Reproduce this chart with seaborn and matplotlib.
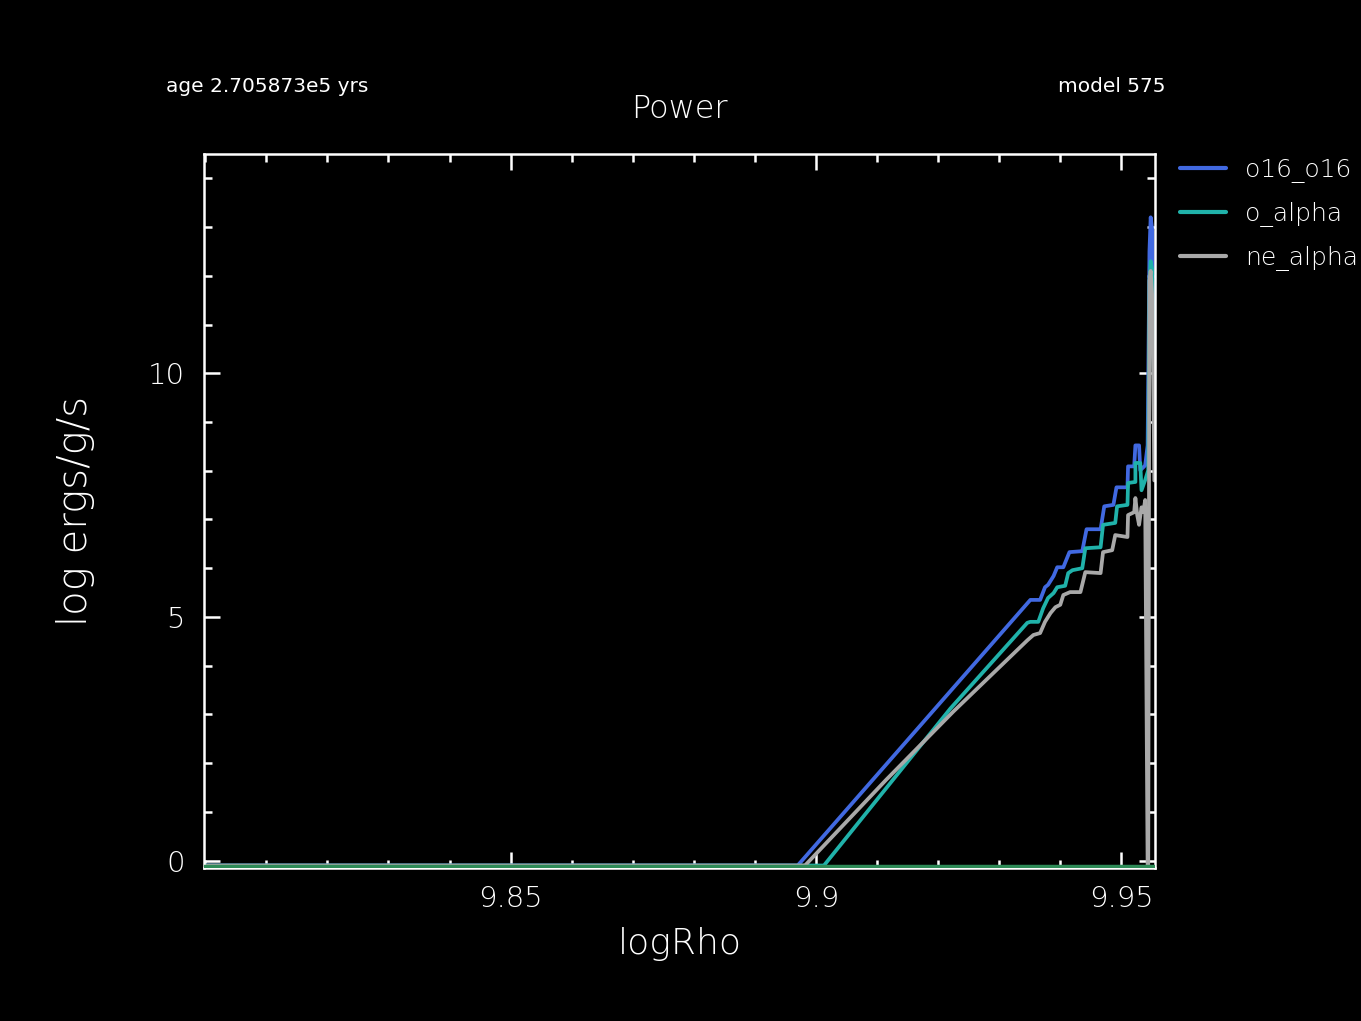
import numpy as np
import pandas as pd
import seaborn as sns
import matplotlib
matplotlib.use("Agg")
import matplotlib.pyplot as plt
from matplotlib.ticker import MultipleLocator

# DATA
series_names = ["o16_o16", "o_alpha", "ne_alpha"]
series_colors = ["#4169e1", "#20b2aa", "#a9a9a9"]

o16_x = [9.8000, 9.8970, 9.9351, 9.9367, 9.9375, 9.9380, 9.9389, 9.9395,
         9.9405, 9.9415, 9.9436, 9.9443, 9.9466, 9.9472, 9.9487, 9.9492, 9.9510, 9.9511,
         9.9521, 9.9523, 9.9529, 9.9531, 9.9539, 9.9543, 9.9546, 9.9548, 9.9551, 9.9552,
         9.9554]
o16_y = [-0.10, -0.10, 5.35, 5.35, 5.61, 5.66, 5.84, 6.02,
         6.02, 6.33, 6.35, 6.80, 6.80, 7.27, 7.30, 7.66, 7.66, 8.09,
         8.09, 8.52, 8.52, 8.01, 8.11, 8.52, 12.5, 13.2, 12.9, 11.5,
         10.7]

oalpha_x = [9.8000, 9.9013, 9.9220, 9.9346, 9.9351, 9.9364, 9.9372,
            9.9380, 9.9389, 9.9395, 9.9408, 9.9413, 9.9420, 9.9436, 9.9441, 9.9466, 9.9470,
            9.9490, 9.9493, 9.9510, 9.9511, 9.9523, 9.9523, 9.9531, 9.9533, 9.9539, 9.9544,
            9.9546, 9.9548, 9.9551, 9.9552, 9.9554]
oalpha_y = [-0.10, -0.10, 3.12, 4.88, 4.90, 4.90, 5.18,
            5.39, 5.49, 5.61, 5.64, 5.90, 5.96, 6.00, 6.41, 6.43, 6.89,
            6.93, 7.27, 7.30, 7.75, 7.77, 8.16, 8.16, 7.60, 7.81, 8.01,
            11.9, 12.3, 12.1, 10.7, 9.6]

nealpha_x = [9.8000, 9.8982, 9.9115, 9.9225, 9.9346, 9.9356, 9.9367, 9.9375,
             9.9384, 9.9392, 9.9400, 9.9405, 9.9416, 9.9433, 9.9441, 9.9466, 9.9470, 9.9485,
             9.9490, 9.9510, 9.9511, 9.9521, 9.9523, 9.9526, 9.9529, 9.9533, 9.9536, 9.9539,
             9.9543, 9.9544, 9.9546, 9.9548, 9.9551, 9.9554]
nealpha_y = [-0.10, -0.10, 1.66, 3.06, 4.52, 4.63, 4.67, 4.90,
             5.08, 5.20, 5.25, 5.45, 5.51, 5.51, 5.92, 5.90, 6.33, 6.37,
             6.68, 6.64, 7.09, 7.15, 7.44, 7.09, 6.89, 7.25, 7.15, 7.40,
             -0.10, -0.10, 11.9, 12.1, 11.5, 7.8]

floor_level = -0.10
x_ticks = [9.85, 9.90, 9.95]
x_tick_labels = ["9.85", "9.9", "9.95"]
y_ticks = [0, 5, 10]
y_tick_labels = ["0", "5", "10"]

frames = []
for name, xs, ys in zip(series_names,
                        [o16_x, oalpha_x, nealpha_x],
                        [o16_y, oalpha_y, nealpha_y]):
    frames.append(pd.DataFrame({"logRho": xs, "power": ys, "series": name}))
df = pd.concat(frames, ignore_index=True)

sns.set_theme(style="ticks", rc={
    "figure.facecolor": "black",
    "axes.facecolor": "black",
    "axes.edgecolor": "white",
    "axes.labelcolor": "white",
    "text.color": "white",
    "xtick.color": "white",
    "ytick.color": "white",
})
plt.rcParams["font.family"] = ["DejaVu Sans"]

fig = plt.figure(figsize=(13.61, 10.21), dpi=100)
ax = fig.add_axes([0.1499, 0.1499, 0.6987, 0.6993])

sns.lineplot(data=df, x="logRho", y="power", hue="series", hue_order=series_names,
             palette=series_colors, sort=False, estimator=None, linewidth=2.7,
             ax=ax, legend=False)
ax.axhline(floor_level, color="#2e8b57", linewidth=2.5, zorder=5)

ax.set_xlim(9.7998, 9.9555)
ax.set_ylim(-0.15, 14.5)

ax.set_xticks(x_ticks, x_tick_labels)
ax.set_yticks(y_ticks, y_tick_labels)
ax.xaxis.set_minor_locator(MultipleLocator(0.01))
ax.yaxis.set_minor_locator(MultipleLocator(1))
ax.tick_params(which="both", direction="in", top=True, right=True, width=1.8, colors="white")
ax.tick_params(which="major", length=11.5, labelsize=21, pad=12)
ax.tick_params(which="minor", length=6)
ax.tick_params(axis="y", which="major", pad=14)
for sp in ax.spines.values():
    sp.set_linewidth(1.8)
    sp.set_color("white")

for lbl in ax.get_xticklabels() + ax.get_yticklabels():
    lbl.set_fontweight("light")

ax.set_xlabel("logRho", fontsize=26, fontweight="light", labelpad=10)
ax.set_ylabel("log ergs/g/s", fontsize=29, fontweight="light", labelpad=38)
ax.set_title("Power", fontsize=23, fontweight="light", pad=26)

fig.text(166 / 1361, 1 - 87 / 1021, "age 2.705873e5 yrs", fontsize=14.5,
         ha="left", va="center")
fig.text(1165 / 1361, 1 - 87 / 1021, "model 575", fontsize=14.5,
         ha="right", va="center")

handles = [plt.Line2D([], [], color=c, linewidth=3) for c in series_colors]
leg = fig.legend(handles, series_names, loc="upper left",
                 bbox_to_anchor=(1180 / 1361, 1 - 158 / 1021),
                 bbox_transform=fig.transFigure, frameon=False,
                 fontsize=18, handlelength=1.85, handletextpad=0.75,
                 labelspacing=0.76, borderpad=0, borderaxespad=0)
for t in leg.get_texts():
    t.set_color("white")
    t.set_fontweight("light")

fig.savefig("out.png", dpi=100, facecolor="black")
